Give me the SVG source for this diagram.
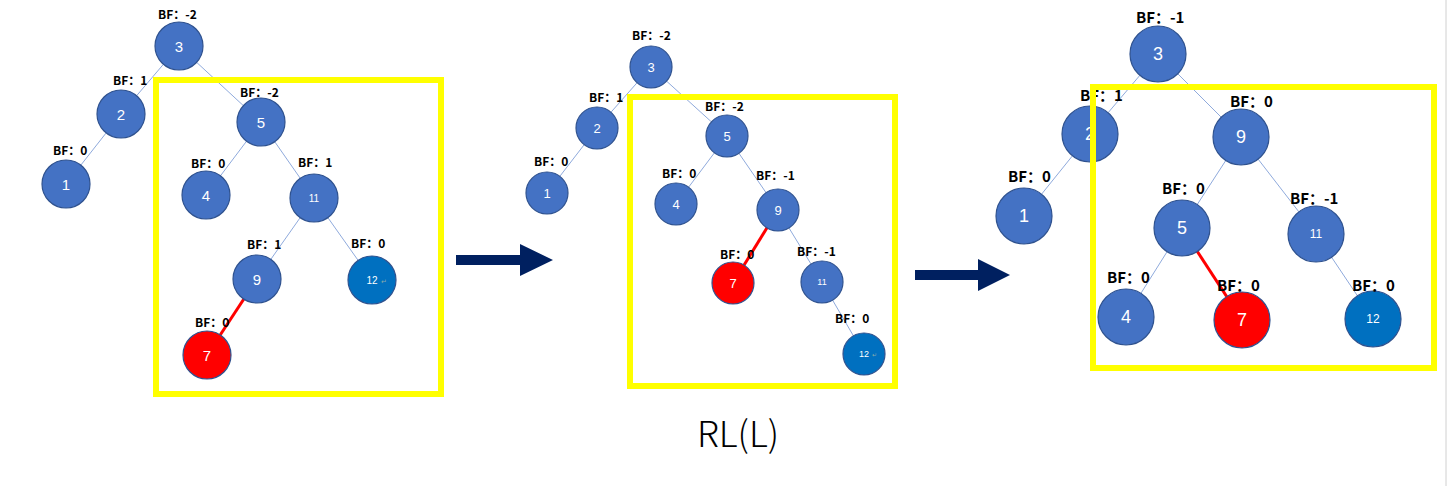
<svg xmlns="http://www.w3.org/2000/svg" width="1449" height="486" viewBox="0 0 1449 486">
<style>
.n{fill:#4472C4;stroke:#2F528F;stroke-width:1.2}
.b{fill:#0070C0;stroke:#2F528F;stroke-width:1.2}
.r{fill:#FF0000;stroke:#2F528F;stroke-width:1.2}
.t{fill:#fff;font-family:"Liberation Sans","Noto Sans",sans-serif;text-anchor:middle;dominant-baseline:central}
.l{font-family:"Noto Sans CJK SC","Liberation Sans",sans-serif;font-weight:bold;fill:#000}
.e{stroke:#8FAADC;stroke-width:1}
.er{stroke:#FF0000;stroke-width:3}
.y{fill:none;stroke:#FFFF00;stroke-width:6}
</style>
<rect width="1449" height="486" fill="#fff"/>
<line x1="1446" y1="0" x2="1446" y2="486" stroke="#d0d0d0" stroke-width="1"/>
<g id="connectors">
<line class="e" x1="179" y1="46" x2="121" y2="114"/><line class="e" x1="121" y1="114" x2="66" y2="184"/>
<line class="e" x1="179" y1="46" x2="261" y2="122"/><line class="e" x1="261" y1="122" x2="206" y2="195"/>
<line class="e" x1="261" y1="122" x2="314" y2="198"/><line class="e" x1="314" y1="198" x2="257" y2="279"/>
<line class="e" x1="314" y1="198" x2="372" y2="280"/><line class="er" x1="257" y1="279" x2="207" y2="355"/>
<line class="e" x1="651" y1="67" x2="597" y2="128"/><line class="e" x1="597" y1="128" x2="547" y2="193"/>
<line class="e" x1="651" y1="67" x2="727" y2="136"/><line class="e" x1="727" y1="136" x2="676" y2="204"/>
<line class="e" x1="727" y1="136" x2="778" y2="210"/><line class="er" x1="778" y1="210" x2="733" y2="283"/>
<line class="e" x1="778" y1="210" x2="822" y2="282"/><line class="e" x1="822" y1="282" x2="864" y2="354"/>
<line class="e" x1="1158" y1="54" x2="1090" y2="134"/><line class="e" x1="1090" y1="134" x2="1024" y2="216"/>
<line class="e" x1="1158" y1="54" x2="1241" y2="137"/><line class="e" x1="1241" y1="137" x2="1182" y2="228"/>
<line class="e" x1="1241" y1="137" x2="1316" y2="234"/><line class="e" x1="1182" y1="228" x2="1126" y2="317"/>
<line class="er" x1="1182" y1="228" x2="1242" y2="320"/><line class="e" x1="1316" y1="234" x2="1373" y2="319"/>
<path d="M456 255 H520 V244 L553 260 L520 276 V265 H456 Z" fill="#002060"/>
<path d="M915 270 H978 V259 L1010 275 L978 291 V280 H915 Z" fill="#002060"/>
</g>
<g id="t1n3"><circle class="n" cx="179" cy="46" r="24"/><text class="t" x="179" y="46" font-size="15">3</text></g>
<g id="t1n2"><circle class="n" cx="121" cy="114" r="24"/><text class="t" x="121" y="114" font-size="15">2</text></g>
<g id="t1n1"><circle class="n" cx="66" cy="184" r="24"/><text class="t" x="66" y="184" font-size="15">1</text></g>
<g id="t1n5"><circle class="n" cx="261" cy="122" r="24"/><text class="t" x="261" y="122" font-size="15">5</text></g>
<g id="t1n4"><circle class="n" cx="206" cy="195" r="24"/><text class="t" x="206" y="195" font-size="15">4</text></g>
<g id="t1n11"><circle class="n" cx="314" cy="198" r="24"/><text class="t" x="314" y="198" font-size="10">11</text></g>
<g id="t1n9"><circle class="n" cx="257" cy="279" r="24"/><text class="t" x="257" y="279" font-size="15">9</text></g>
<g id="t1n12"><circle class="b" cx="372" cy="280" r="24"/><text class="t" x="372" y="280" font-size="10">12</text><text x="381" y="284" font-size="7" fill="#8aa" font-family="DejaVu Sans,sans-serif">↵</text></g>
<g id="t1n7"><circle class="r" cx="207" cy="355" r="24"/><text class="t" x="207" y="355" font-size="15">7</text></g>
<g id="t2n3"><circle class="n" cx="651" cy="67" r="21"/><text class="t" x="651" y="67" font-size="13">3</text></g>
<g id="t2n2"><circle class="n" cx="597" cy="128" r="21"/><text class="t" x="597" y="128" font-size="13">2</text></g>
<g id="t2n1"><circle class="n" cx="547" cy="193" r="21"/><text class="t" x="547" y="193" font-size="13">1</text></g>
<g id="t2n5"><circle class="n" cx="727" cy="136" r="21"/><text class="t" x="727" y="136" font-size="13">5</text></g>
<g id="t2n4"><circle class="n" cx="676" cy="204" r="21"/><text class="t" x="676" y="204" font-size="13">4</text></g>
<g id="t2n9"><circle class="n" cx="778" cy="210" r="21"/><text class="t" x="778" y="210" font-size="13">9</text></g>
<g id="t2n7"><circle class="r" cx="733" cy="283" r="21"/><text class="t" x="733" y="283" font-size="13">7</text></g>
<g id="t2n11"><circle class="n" cx="822" cy="282" r="21"/><text class="t" x="822" y="282" font-size="9">11</text></g>
<g id="t2n12"><circle class="b" cx="864" cy="354" r="21"/><text class="t" x="864" y="354" font-size="9">12</text><text x="872" y="357" font-size="6" fill="#8aa" font-family="DejaVu Sans,sans-serif">↵</text></g>
<g id="t3n3"><circle class="n" cx="1158" cy="54" r="28"/><text class="t" x="1158" y="54" font-size="18">3</text></g>
<g id="t3n2"><circle class="n" cx="1090" cy="134" r="28"/><text class="t" x="1090" y="134" font-size="18">2</text></g>
<g id="t3n1"><circle class="n" cx="1024" cy="216" r="28"/><text class="t" x="1024" y="216" font-size="18">1</text></g>
<g id="t3n9"><circle class="n" cx="1241" cy="137" r="28"/><text class="t" x="1241" y="137" font-size="18">9</text></g>
<g id="t3n5"><circle class="n" cx="1182" cy="228" r="28"/><text class="t" x="1182" y="228" font-size="18">5</text></g>
<g id="t3n11"><circle class="n" cx="1316" cy="234" r="28"/><text class="t" x="1316" y="234" font-size="12">11</text></g>
<g id="t3n4"><circle class="n" cx="1126" cy="317" r="28"/><text class="t" x="1126" y="317" font-size="18">4</text></g>
<g id="t3n7"><circle class="r" cx="1242" cy="320" r="28"/><text class="t" x="1242" y="320" font-size="18">7</text></g>
<g id="t3n12"><circle class="b" cx="1373" cy="319" r="28"/><text class="t" x="1373" y="319" font-size="12">12</text></g>
<g id="labels">
<g class="l" font-size="12">
<text x="158" y="19">BF：-2</text><text x="113" y="85">BF：1</text><text x="53" y="155">BF：0</text>
<text x="240" y="97">BF：-2</text><text x="191" y="168">BF：0</text><text x="298" y="167">BF：1</text>
<text x="247" y="249">BF：1</text><text x="351" y="248">BF：0</text><text x="195" y="327">BF：0</text>
<text x="632" y="40">BF：-2</text><text x="589" y="102">BF：1</text><text x="534" y="166">BF：0</text>
<text x="705" y="111">BF：-2</text><text x="662" y="178">BF：0</text><text x="756" y="180">BF：-1</text>
<text x="720" y="259">BF：0</text><text x="797" y="256">BF：-1</text><text x="835" y="323">BF：0</text>
</g>
<g class="l" font-size="15">
<text x="1136" y="23">BF：-1</text><text x="1080" y="101">BF：1</text><text x="1008" y="182">BF：0</text>
<text x="1230" y="107">BF：0</text><text x="1162" y="194">BF：0</text><text x="1290" y="204">BF：-1</text>
<text x="1107" y="283">BF：0</text><text x="1217" y="291">BF：0</text><text x="1352" y="291">BF：0</text>
</g>
</g>
<rect class="y" x="156" y="80" width="285" height="314"/>
<rect class="y" x="630" y="97" width="265" height="289"/>
<rect class="y" x="1093" y="87" width="341" height="281"/>
<text x="738" y="447" font-size="36" text-anchor="middle" font-family="Noto Sans CJK SC,Noto Sans,sans-serif" font-weight="300">RL(L)</text>
</svg>
